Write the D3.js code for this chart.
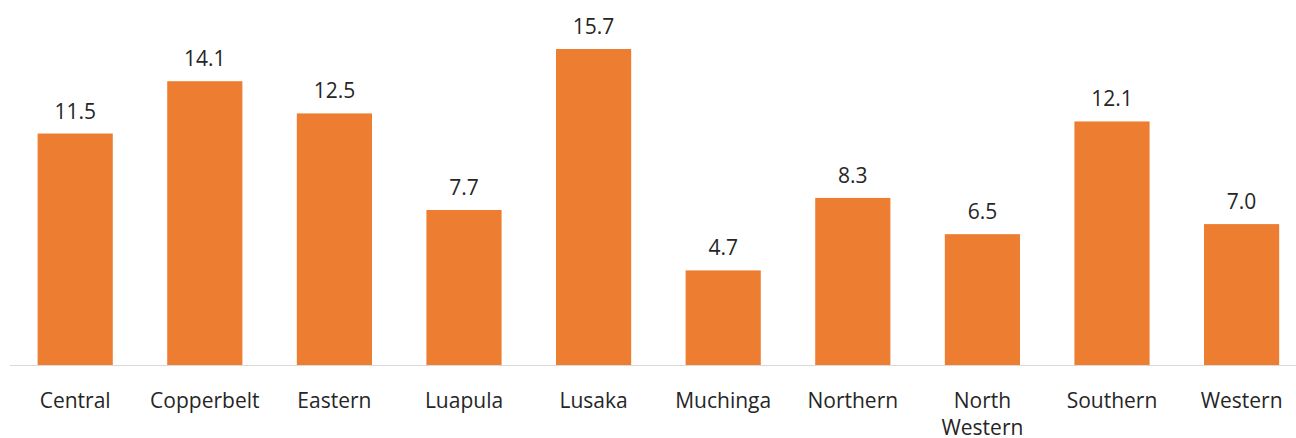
<!DOCTYPE html>
<html><head><meta charset="utf-8">
<script src="https://cdn.jsdelivr.net/npm/d3@7"></script>
<style>body{margin:0;background:#fff}svg{display:block}</style>
</head><body>
<script>
const categories = ["Central","Copperbelt","Eastern","Luapula","Lusaka","Muchinga","Northern","North Western","Southern","Western"];
const values = [11.5,14.1,12.5,7.7,15.7,4.7,8.3,6.5,12.1,7.0];

const W = 1296, H = 438;
const svg = d3.select("body").append("svg").attr("width", W).attr("height", H);
const baseY = 365;
const x = d3.scaleBand().domain(categories).range([10.4, 1306.4]).paddingInner(0.42).paddingOuter(0.21);
const y = d3.scaleLinear().domain([0, 15.7]).range([baseY, 49]);
const font = "'Open Sans', sans-serif";

svg.append("g").selectAll("rect").data(values).join("rect")
  .attr("x", (d,i)=>x(categories[i])).attr("width", x.bandwidth())
  .attr("y", d=>y(d)).attr("height", d=>baseY - y(d)).attr("fill", "#ED7D31");

svg.append("line").attr("x1",10).attr("x2",W).attr("y1",baseY+0.5).attr("y2",baseY+0.5)
  .attr("stroke","#d9d9d9").attr("stroke-width",1);

svg.append("g").selectAll("text").data(values).join("text")
  .attr("x",(d,i)=>x(categories[i])+x.bandwidth()/2).attr("y",d=>y(d)-15)
  .attr("text-anchor","middle").attr("font-family",font).attr("font-size",21).attr("fill","#262626")
  .text(d=>d.toFixed(1));

const lab = svg.append("g").selectAll("text").data(categories).join("text")
  .attr("x",d=>x(d)+x.bandwidth()/2).attr("y",408)
  .attr("text-anchor","middle").attr("font-family",font).attr("font-size",21).attr("fill","#262626");
lab.each(function(d){
  const words = d.split(" ");
  const t = d3.select(this);
  if (words.length > 1) {
    words.forEach((w,i)=>t.append("tspan").attr("x", t.attr("x")).attr("dy", i===0?0:27).text(w));
  } else t.text(d);
});
</script>
</body></html>
